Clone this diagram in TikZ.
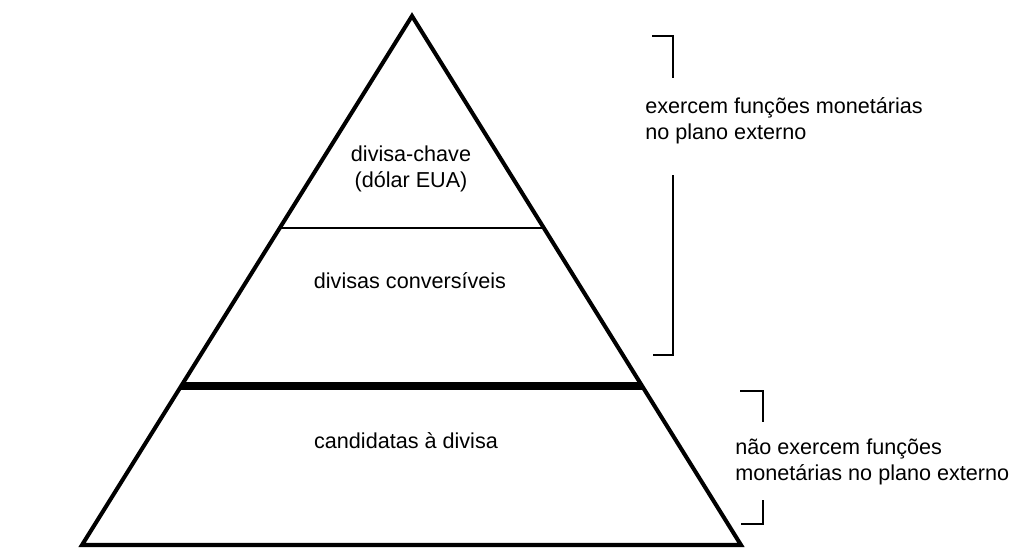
\documentclass[tikz,border=0pt]{standalone}
\usepackage{fontspec}
\setmainfont{Liberation Sans}
\usepackage{tikz}
\usetikzlibrary{calc,positioning}

\begin{document}
\begin{tikzpicture}[x=0.02cm,y=-0.02cm,
    lbl/.style={font=\fontsize{12.3}{14.8}\selectfont,inner sep=0pt},
    side/.style={lbl,align=left,anchor=west},
    bracket/.style={line width=0.9pt}]
\useasboundingbox (0,0) rectangle (1024,555);
\coordinate (top) at (412,16);
\coordinate (bl) at (82,545);
\coordinate (br) at (741,545);
\draw[line width=2.3pt] (top) -- (bl) -- (br) -- cycle;
\draw[line width=1.4pt] ($(top)!0.4008!(bl)$) -- ($(top)!0.4008!(br)$);
\draw[line width=4.5pt] ($(top)!0.6994!(bl)$) -- ($(top)!0.6994!(br)$);
\node[lbl] (chave) at (411,154) {divisa-chave};
\node[lbl] (dolar) at (411,182) {(dólar EUA)};
\node[lbl] (conv) at (410,281) {divisas conversíveis};
\node[lbl] (cand) at (406,441) {candidatas à divisa};
\node[side] (ext) at (645,121) {exercem funções monetárias\\no plano externo};
\node[side] (nao) at (735,462) {não exercem funções\\monetárias no plano externo};
\draw[bracket] (652,36) -| (673,78);
\draw[bracket] (673,175) |- (653,355);
\draw[bracket] (740,391) -| (763,422);
\draw[bracket] (763,500) |- (741,524);
\end{tikzpicture}
\end{document}
